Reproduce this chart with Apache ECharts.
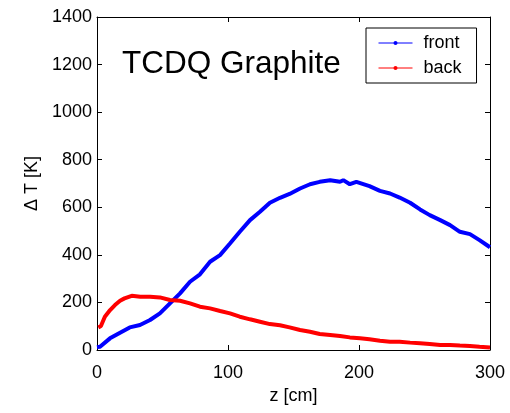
<!DOCTYPE html>
<html>
<head>
<meta charset="utf-8">
<script src="https://cdn.jsdelivr.net/npm/echarts@6/dist/echarts.min.js"></script>
<style>html,body{margin:0;padding:0;background:#fff;}#c{width:510px;height:413px;}</style>
</head>
<body>
<div id="c"></div>
<script>
var titleText = 'TCDQ Graphite';
var xName = 'z [cm]';
var yName = '\u0394 T [K]';
var xTicks = [0, 100, 200, 300];
var yTicks = [0, 200, 400, 600, 800, 1000, 1200, 1400];
var seriesNames = ['front', 'back'];

var frontZ = [0, 2.3, 9.9, 17.6, 25, 32.8, 40.5, 48, 55.7, 63.4, 71, 78.6, 86.3, 93.9, 101.5, 109, 116.8, 124.4, 132, 139.7, 147, 155, 162.6, 170, 178, 185.5, 188, 193, 198, 208, 216, 223.7, 231, 239, 246.6, 254, 262, 269.5, 277, 284.7, 292, 300];
var frontT = [12, 14, 49, 73, 95, 105, 126, 154, 196, 238, 287, 318, 371, 399, 448, 497, 546, 581, 619, 640, 656, 679, 697, 707, 714, 707, 714, 697, 707, 689, 669, 658, 641, 619, 591, 567, 546, 525, 497, 487, 462, 432];

var backZ = [1, 3, 6, 10, 13.7, 17.6, 21, 26.5, 33, 40.5, 48, 55.7, 63.4, 71, 78.6, 86.3, 94, 101.5, 109, 116.8, 124.4, 132, 139.7, 147, 155, 162.6, 170, 178, 185.5, 193, 200.8, 208, 216, 223.7, 231, 239, 246.6, 254, 262, 269.5, 277, 284.7, 292, 300];
var backT = [95, 101, 140, 168, 189, 207, 217, 228, 224, 224, 221, 210, 207, 196, 182, 175, 164, 154, 140, 129, 119, 109, 104, 95, 84, 77, 67, 63, 59, 53, 49, 45, 39, 35, 35, 31, 28, 25, 21, 21, 19, 17, 14, 11];

function pairs(xs, ys) { return xs.map(function (x, i) { return [x, ys[i]]; }); }

var FONT = '"Liberation Sans", Arial, sans-serif';
var chart = echarts.init(document.getElementById('c'), null, {renderer: 'canvas'});

var axisCommon = {
  axisLine: {show: true, onZero: false, lineStyle: {color: '#000', width: 1}},
  axisTick: {show: true, inside: true, length: 5, lineStyle: {color: '#000'}},
  splitLine: {show: false}
};

chart.setOption({
  animation: false,
  backgroundColor: '#fff',
  grid: {left: 97, top: 17, right: 20, bottom: 63, show: false},
  title: {
    text: titleText, left: 117, top: 43,
    textStyle: {fontFamily: FONT, fontSize: 31.5, fontWeight: 'normal', color: '#000'}
  },
  legend: {
    data: seriesNames, orient: 'vertical', left: 366, top: 28,
    padding: [6, 15, 6, 12], itemGap: 7, itemWidth: 34, itemHeight: 5,
    borderColor: '#000', borderWidth: 1, backgroundColor: '#fff',
    lineStyle: {width: 1},
    textStyle: {fontFamily: FONT, fontSize: 18, color: '#000', padding: [0, 0, 0, 6]}
  },
  xAxis: [
    Object.assign({
      type: 'value', min: xTicks[0], max: xTicks[xTicks.length - 1], interval: 100, position: 'bottom',
      name: xName, nameLocation: 'middle', nameGap: 28,
      nameTextStyle: {fontFamily: FONT, fontSize: 18, color: '#000'},
      axisLabel: {fontFamily: FONT, fontSize: 18, color: '#000', margin: 14, formatter: function (v) { return String(v); }}
    }, axisCommon),
    Object.assign({
      type: 'value', min: xTicks[0], max: xTicks[xTicks.length - 1], interval: 100, position: 'top',
      axisLabel: {show: false}
    }, axisCommon)
  ],
  yAxis: [
    Object.assign({
      type: 'value', min: yTicks[0], max: yTicks[yTicks.length - 1], interval: 200, position: 'left',
      name: yName, nameLocation: 'middle', nameGap: 54, nameRotate: 90,
      nameTextStyle: {fontFamily: FONT, fontSize: 18, color: '#000'},
      axisLabel: {fontFamily: FONT, fontSize: 18, color: '#000', margin: 5, formatter: function (v) { return String(v); }}
    }, axisCommon),
    Object.assign({
      type: 'value', min: yTicks[0], max: yTicks[yTicks.length - 1], interval: 200, position: 'right',
      axisLabel: {show: false}
    }, axisCommon)
  ],
  series: [
    {
      name: seriesNames[0], type: 'line', data: pairs(frontZ, frontT),
      xAxisIndex: 0, yAxisIndex: 0,
      symbol: 'circle', symbolSize: 5, showSymbol: false,
      itemStyle: {color: '#0000ff'},
      lineStyle: {color: '#0000ff', width: 4}
    },
    {
      name: seriesNames[1], type: 'line', data: pairs(backZ, backT),
      xAxisIndex: 0, yAxisIndex: 0,
      symbol: 'circle', symbolSize: 5, showSymbol: false,
      itemStyle: {color: '#ff0000'},
      lineStyle: {color: '#ff0000', width: 4}
    }
  ]
});
</script>
</body>
</html>
